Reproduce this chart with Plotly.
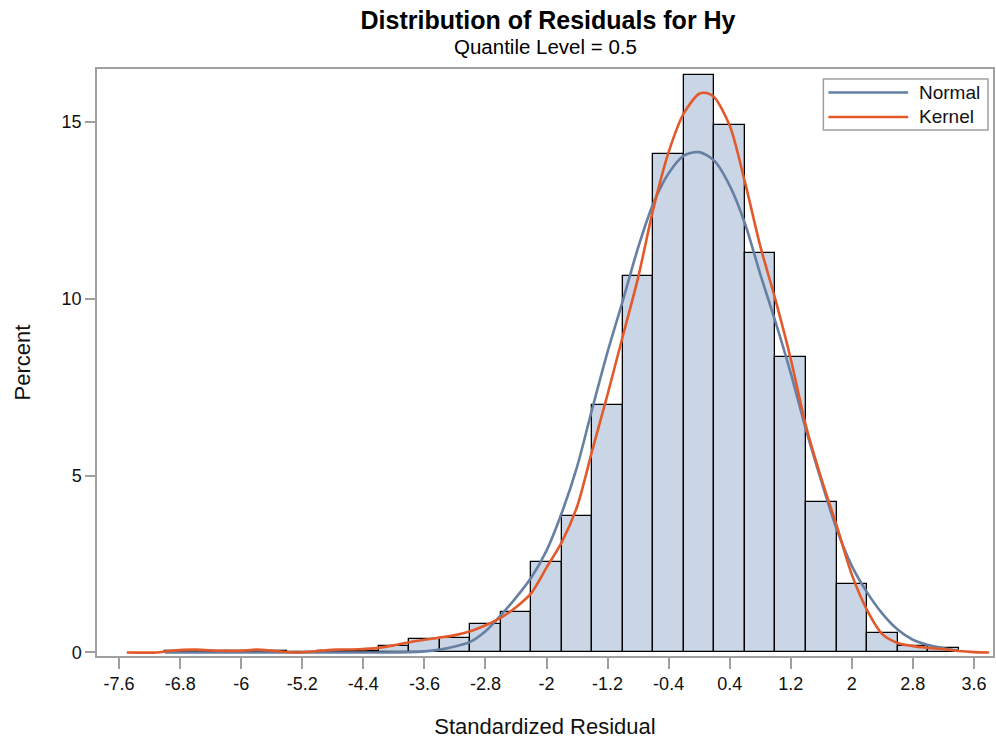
import plotly.graph_objects as go

# ---- data ----
bin_centers = [-6.8, -6.4, -6.0, -5.6, -5.2, -4.8, -4.4, -4.0, -3.6, -3.2, -2.8, -2.4,
               -2.0, -1.6, -1.2, -0.8, -0.4, 0.0, 0.4, 0.8, 1.2, 1.6, 2.0, 2.4, 2.8, 3.2]
bin_percent = [0.03, 0.03, 0.03, 0.03, 0.0, 0.03, 0.05, 0.18, 0.38, 0.40, 0.80, 1.14,
               2.57, 3.86, 6.99, 10.66, 14.09, 16.33, 14.91, 11.30, 8.36, 4.25, 1.94, 0.54, 0.18, 0.14]
bin_width = 0.4

normal_x = [-7.0, -5.0, -4.2, -3.8, -3.6, -3.4, -3.2, -3.0, -2.8, -2.6, -2.4, -2.2, -2.0,
            -1.8, -1.6, -1.4, -1.2, -1.0, -0.8, -0.6, -0.4, -0.2, 0.0, 0.2, 0.4, 0.6,
            0.8, 1.0, 1.2, 1.4, 1.6, 1.8, 2.0, 2.2, 2.4, 2.6, 2.8, 3.0, 3.2, 3.4]
normal_y = [0.0, 0.0, 0.0, 0.01, 0.03, 0.08, 0.17, 0.30, 0.60, 1.05, 1.55, 2.12, 2.88,
            3.95, 5.25, 6.90, 8.50, 9.95, 11.45, 12.70, 13.55, 14.05, 14.15, 13.90, 13.20, 12.13,
            10.70, 9.35, 7.90, 6.30, 4.85, 3.50, 2.45, 1.70, 1.10, 0.65, 0.36, 0.21, 0.12, 0.05]

kernel_x = [-7.5, -7.1, -6.95, -6.6, -6.3, -6.0, -5.8, -5.55, -5.28, -5.0, -4.75, -4.45,
            -4.2, -4.0, -3.8, -3.6, -3.4, -3.2, -3.0, -2.8, -2.6, -2.4, -2.2, -2.0, -1.8,
            -1.6, -1.4, -1.2, -1.0, -0.8, -0.6, -0.4, -0.2, 0.0, 0.1, 0.2, 0.4, 0.6, 0.8,
            1.0, 1.2, 1.4, 1.6, 1.8, 2.0, 2.2, 2.4, 2.6, 2.8, 3.0, 3.2, 3.4, 3.6, 3.8]
kernel_y = [0.0, 0.0, 0.04, 0.08, 0.05, 0.05, 0.08, 0.04, 0.0, 0.04, 0.08, 0.09,
            0.13, 0.20, 0.29, 0.36, 0.42, 0.49, 0.60, 0.77, 0.98, 1.28, 1.68, 2.40, 3.12,
            4.12, 5.72, 7.30, 8.95, 10.60, 12.55, 14.15, 15.25, 15.80, 15.82, 15.70, 14.90, 13.30, 11.50,
            9.97, 8.30, 6.40, 4.92, 3.60, 2.20, 1.20, 0.52, 0.27, 0.18, 0.13, 0.09, 0.04, 0.01, 0.0]

x_ticks = [-7.6, -6.8, -6.0, -5.2, -4.4, -3.6, -2.8, -2.0, -1.2, -0.4, 0.4, 1.2, 2.0, 2.8, 3.6]
x_tick_text = ["-7.6", "-6.8", "-6", "-5.2", "-4.4", "-3.6", "-2.8", "-2", "-1.2", "-0.4",
               "0.4", "1.2", "2", "2.8", "3.6"]
y_ticks = [0, 5, 10, 15]

series_names = ["Normal", "Kernel"]

# ---- style ----
FONT = "Liberation Sans, Arial, sans-serif"
BAR_FILL = "#CAD5E5"
NORMAL_COLOR = "#667FA2"
KERNEL_COLOR = "#E25A2B"
AXIS_COLOR = "#A0A0A0"
TEXT_COLOR = "#111111"

fig = go.Figure()
fig.add_trace(go.Bar(x=bin_centers, y=bin_percent, width=bin_width,
                     marker=dict(color=BAR_FILL, line=dict(color="black", width=1.3)),
                     showlegend=False, hoverinfo="x+y"))
fig.add_trace(go.Scatter(x=normal_x, y=normal_y, mode="lines", name=series_names[0],
                         line=dict(color=NORMAL_COLOR, width=2.6, shape="spline", smoothing=0.8),
                         showlegend=False))
fig.add_trace(go.Scatter(x=kernel_x, y=kernel_y, mode="lines", name=series_names[1],
                         line=dict(color=KERNEL_COLOR, width=2.6, shape="spline", smoothing=0.8),
                         showlegend=False))

W, H = 996, 745
ml, mr, mt, mb = 97, 1, 69, 89
pw, ph = W - ml - mr, H - mt - mb

def px_x(p):
    return (p - ml) / pw

def px_y(p):
    return (H - mb - p) / ph

# custom legend (box, sample lines, labels)
lx0, lx1, ly0, ly1 = 825, 990, 79, 130
fig.add_shape(type="rect", xref="paper", yref="paper", x0=px_x(lx0), x1=px_x(lx1),
              y0=px_y(ly1), y1=px_y(ly0), line=dict(color=AXIS_COLOR, width=1.5),
              fillcolor="white", layer="above")
for i, (name, col) in enumerate(zip(series_names, [NORMAL_COLOR, KERNEL_COLOR])):
    yy = 92.5 + i * 24.5
    fig.add_shape(type="line", xref="paper", yref="paper", x0=px_x(830), x1=px_x(910),
                  y0=px_y(yy), y1=px_y(yy), line=dict(color=col, width=2.6), layer="above")
    fig.add_annotation(xref="paper", yref="paper", x=px_x(919), y=px_y(yy), text=name,
                       showarrow=False, xanchor="left", yanchor="middle",
                       font=dict(family=FONT, size=19, color=TEXT_COLOR))

fig.add_annotation(xref="paper", yref="paper", x=0.5, y=px_y(47), text="Quantile Level = 0.5",
                   showarrow=False, xanchor="center", yanchor="middle",
                   font=dict(family=FONT, size=20.5, color="black"))

fig.update_layout(
    width=W, height=H,
    margin=dict(l=ml, r=mr, t=mt, b=mb),
    paper_bgcolor="white", plot_bgcolor="white",
    bargap=0,
    title=dict(text="<b>Distribution of Residuals for Hy</b>", x=px_x(548) * pw / W + ml / W,
               xanchor="center", y=1 - 20 / H, yanchor="middle",
               font=dict(family=FONT, size=25, color="black")),
    xaxis=dict(range=[-7.89, 3.85], tickmode="array", tickvals=x_ticks, ticktext=x_tick_text,
               showline=True, linecolor=AXIS_COLOR, linewidth=1.5, mirror=True,
               ticks="outside", ticklen=11, tickcolor=AXIS_COLOR, tickwidth=1.5,
               showgrid=False, zeroline=False,
               tickfont=dict(family=FONT, size=18, color=TEXT_COLOR),
               title=dict(text="Standardized Residual", standoff=25,
                          font=dict(family=FONT, size=22, color=TEXT_COLOR))),
    yaxis=dict(range=[-0.1, 16.5], tickmode="array", tickvals=y_ticks,
               showline=True, linecolor=AXIS_COLOR, linewidth=1.5, mirror=True,
               ticks="outside", ticklen=10, tickcolor=AXIS_COLOR, tickwidth=1.5,
               showgrid=False, zeroline=False,
               tickfont=dict(family=FONT, size=18, color=TEXT_COLOR),
               title=dict(text="Percent", standoff=25,
                          font=dict(family=FONT, size=22, color=TEXT_COLOR))),
)

fig.write_html("out.html")
